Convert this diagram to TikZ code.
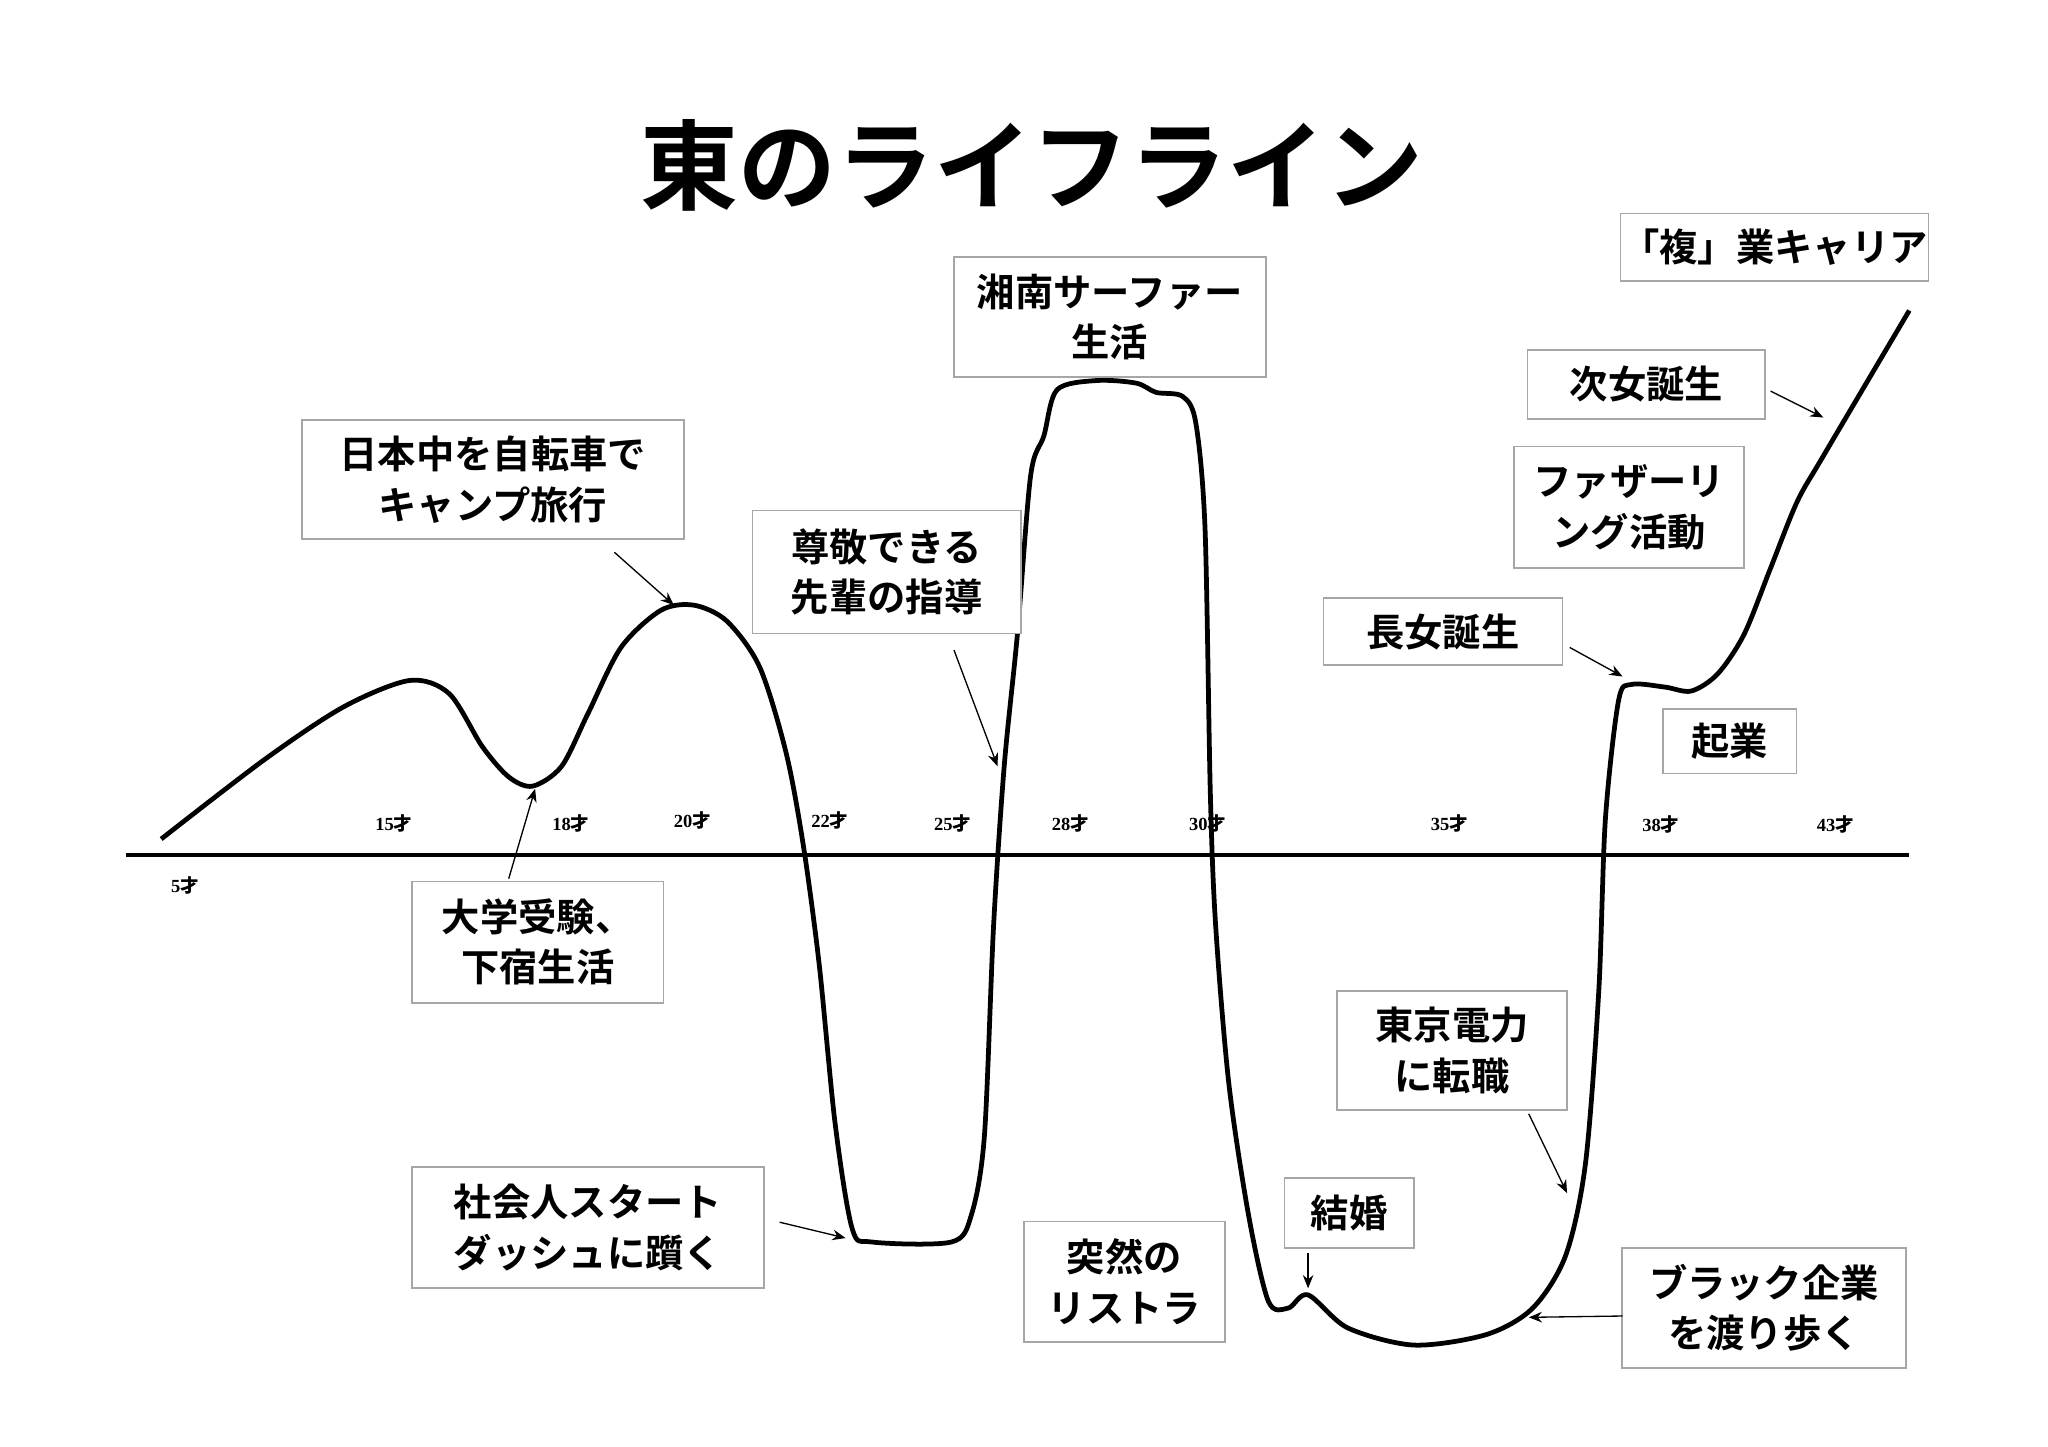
\documentclass[tikz,border=0pt]{standalone}
\usepackage{fontspec}
\setmainfont{Liberation Serif}
\newfontfamily\jp{Noto Sans CJK JP Bold}
\usetikzlibrary{arrows.meta}
\begin{document}
\begin{tikzpicture}[x=0.5pt,y=-0.5pt,
 lbox/.style={draw=black!35,line width=0.6pt,fill=white,font=\jp\fontsize{14.5}{19}\selectfont,align=center,inner sep=0pt},
 age/.style={font=\bfseries\fontsize{7}{8}\selectfont},
 arr/.style={-{Stealth[length=5pt,width=4pt]},line width=0.5pt}]
\useasboundingbox (0,0) rectangle (1550,1095);
\node[font=\jp\fontsize{37}{40}\selectfont] (title) at (781,125) {東のライフライン};
\draw[line width=1.6pt] (95,647) -- (1445,647);
\foreach \x/\y/\t [count=\i] in {140/670/5,298/623/15,432/623/18,524/621/20,628/621/22,721/623/25,810/623/28,914/623/30,1097/623/35,1257/624/38,1389/624/43}
  \node[age] (a\i) at (\x,\y) {\t\jp 才};
\draw[line width=1.8pt,line join=round] plot[smooth,tension=0.5] coordinates {
(122,635) (200,575) (260,535) (310,515) (340,525) (365,565) (385,588) (403,595) (425,580) (445,540) (470,490) (500,462) (525,458) (550,470) (575,505) (595,570) (608,640) (620,730) (632,850) (645,930) (660,940) (720,940) (735,920) (745,860) (752,700) (760,580) (770,480) (780,360) (790,330) (800,295) (830,288) (860,290) (875,297) (895,300) (905,320) (912,400) (916,600) (920,700) (930,820) (945,920) (960,985) (975,990) (990,980) (1020,1005) (1070,1018) (1125,1010) (1160,990) (1185,950) (1200,880) (1210,750) (1215,620) (1225,530) (1235,518) (1260,520) (1280,523) (1300,510) (1320,480) (1340,430) (1360,380) (1380,345) (1445,235)};
\node[lbox,minimum width=144.5pt,minimum height=45pt] (b1) at (373,363) {日本中を自転車で\\キャンプ旅行};
\node[lbox,minimum width=95pt,minimum height=46pt] (b2) at (407,713) {大学受験、\\下宿生活};
\node[lbox,minimum width=101.5pt,minimum height=46.5pt] (b3) at (671,433) {尊敬できる\\先輩の指導};
\node[lbox,minimum width=118pt,minimum height=45.5pt] (b4) at (840,240) {湘南サーファー\\生活};
\node[lbox,minimum width=133pt,minimum height=46pt] (b5) at (445,929) {社会人スタート\\ダッシュに躓く};
\node[lbox,minimum width=76pt,minimum height=45.5pt] (b6) at (851,970) {突然の\\リストラ};
\node[lbox,minimum width=49pt,minimum height=26.5pt] (b7) at (1021,918) {結婚};
\node[lbox,minimum width=87pt,minimum height=45pt] (b8) at (1099,795) {東京電力\\に転職};
\node[lbox,minimum width=107.5pt,minimum height=45.5pt] (b9) at (1335,990) {ブラック企業\\を渡り歩く};
\node[lbox,minimum width=90.5pt,minimum height=25.5pt] (b10) at (1092,478) {長女誕生};
\node[lbox,minimum width=87pt,minimum height=46pt] (b11) at (1233,384) {ファザーリ\\ング活動};
\node[lbox,minimum width=90pt,minimum height=26pt] (b12) at (1246,291) {次女誕生};
\node[lbox,minimum width=50.5pt,minimum height=24.5pt] (b13) at (1309,561) {起業};
\node[lbox,minimum width=116.5pt,minimum height=25.5pt] (b14) at (1343,187) {「複」業キャリア};
\coordinate (p1) at (510,458); \coordinate (p2) at (405,597);
\coordinate (p3) at (755,580); \coordinate (p4) at (640,937);
\coordinate (p5) at (990,975); \coordinate (p6) at (1186,903);
\coordinate (p7) at (1157,997); \coordinate (p8) at (1228,512);
\coordinate (p9) at (1380,316);
\coordinate (s1) at (465,418); \coordinate (s2) at (385,665);
\coordinate (s3) at (722,492); \coordinate (s4) at (590,925);
\coordinate (s5) at (990,948); \coordinate (s6) at (1157,843);
\coordinate (s7) at (1228,996); \coordinate (s8) at (1188,490);
\coordinate (s9) at (1340,296);
\foreach \i in {1,...,9} \draw[arr] (s\i) -- (p\i);
\end{tikzpicture}
\end{document}
